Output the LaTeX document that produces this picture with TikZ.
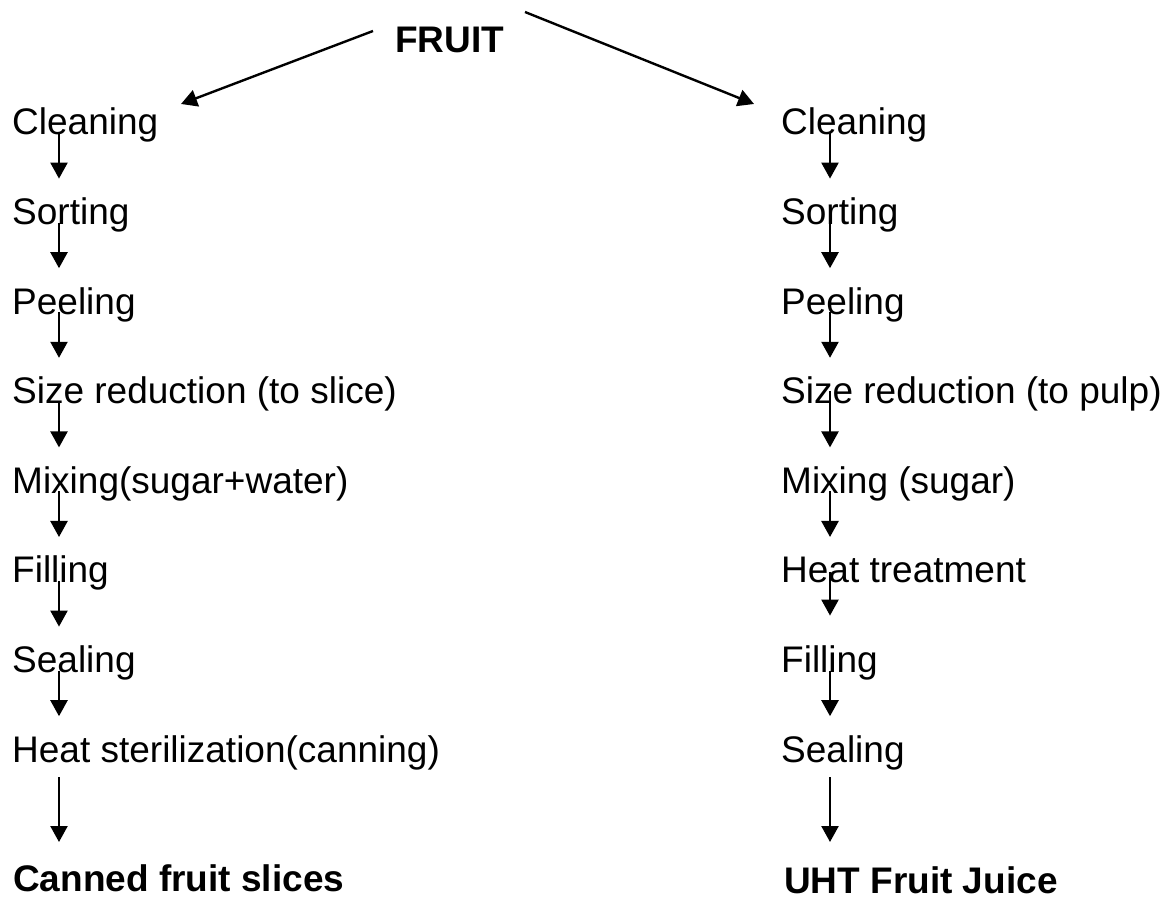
\documentclass[tikz,border=0pt]{standalone}
\usepackage{fontspec}
\setmainfont{Liberation Sans}
\usetikzlibrary{arrows.meta,calc}
\begin{document}
\begin{tikzpicture}[x=1pt,y=1pt,
  lbl/.style={anchor=base west,inner sep=0pt,font=\fontsize{37pt}{44pt}\selectfont},
  blbl/.style={lbl,font=\fontsize{37pt}{44pt}\selectfont\bfseries},
  arr/.style={line width=2.4pt,-{Triangle[width=17pt,length=16pt]}}]
\useasboundingbox (0,0) rectangle (1168,903);
% FRUIT
\node[blbl] (fruit) at (395,850) {FRUIT};
% left column
\node[lbl] (l1) at (12,768) {Cleaning};
\node[lbl] (l2) at (12,678.4) {Sorting};
\node[lbl] (l3) at (12,588.8) {Peeling};
\node[lbl] (l4) at (12,499.2) {Size reduction (to slice)};
\node[lbl] (l5) at (12,409.6) {Mixing(sugar+water)};
\node[lbl] (l6) at (12,320) {Filling};
\node[lbl] (l7) at (12,230.4) {Sealing};
\node[lbl] (l8) at (12,140.8) {Heat sterilization(canning)};
\node[blbl] (l9) at (13,12) {Canned fruit slices};
% right column
\node[lbl] (r1) at (781,768) {Cleaning};
\node[lbl] (r2) at (781,678.4) {Sorting};
\node[lbl] (r3) at (781,588.8) {Peeling};
\node[lbl] (r4) at (781,499.2) {Size reduction (to pulp)};
\node[lbl] (r5) at (781,409.6) {Mixing (sugar)};
\node[lbl] (r6) at (781,320) {Heat treatment};
\node[lbl] (r7) at (781,230.4) {Filling};
\node[lbl] (r8) at (781,140.8) {Sealing};
\node[blbl] (r9) at (784,10) {UHT Fruit Juice};
% FRUIT arrows
\draw[arr] ($(fruit.base west)+(-22,22)$) -- ($(l1.base west)+(169,31)$);
\draw[arr] ($(fruit.base west)+(130,41)$) -- ($(r1.base west)+(-27,31)$);
% left arrows
\foreach \a/\b in {l1/l2,l2/l3,l3/l4,l4/l5,l5/l6,l6/l7,l7/l8}{
  \draw[arr] ($(\a.base west)+(47,2)$) -- ($(\b.base west)+(47,46)$);
}
\draw[arr] ($(l8.base west)+(47,-15)$) -- ($(l9.base west)+(46,49)$);
% right arrows
\foreach \a/\b in {r1/r2,r2/r3,r3/r4,r5/r6,r7/r8}{
  \draw[arr] ($(\a.base west)+(49,2)$) -- ($(\b.base west)+(49,46)$);
}
\draw[arr] ($(r4.base west)+(49,13)$) -- ($(r5.base west)+(49,46)$);
\draw[arr] ($(r6.base west)+(49,11)$) -- ($(r7.base west)+(49,57)$);
\draw[arr] ($(r8.base west)+(49,-15)$) -- ($(r9.base west)+(46,51)$);
\end{tikzpicture}
\end{document}
